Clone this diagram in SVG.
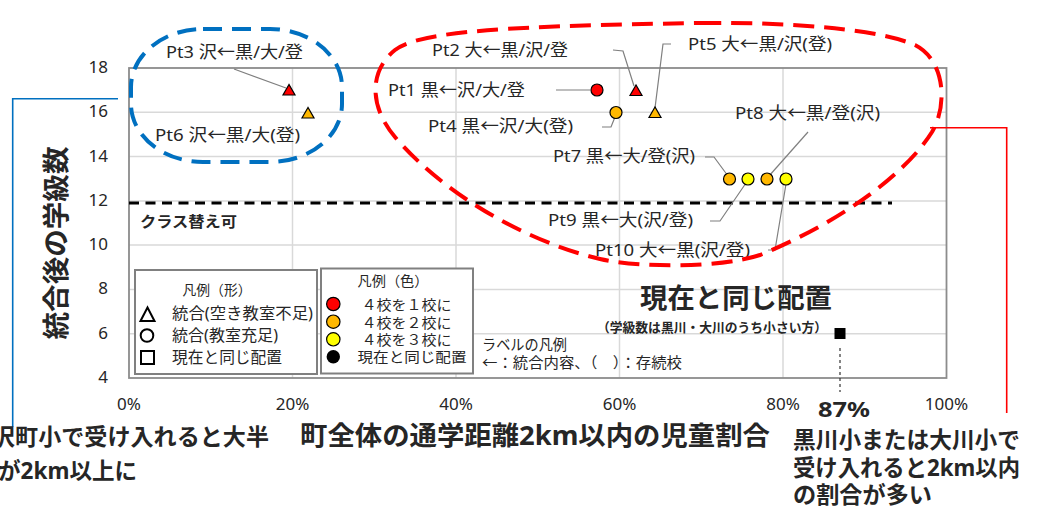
<svg xmlns="http://www.w3.org/2000/svg" width="1049" height="508" viewBox="0 0 1049 508">
<style>
text{font-family:"Noto Sans","Noto Sans CJK JP",sans-serif;fill:#262626}
.b{font-weight:bold}
.tk{font-size:17px}
.lb{font-size:17px}
.lg{font-size:14px}
.grid{stroke:#d9d9d9;stroke-width:1.5}
.ld{fill:none;stroke:#7f7f7f;stroke-width:1.2}
.pt{stroke:#000;stroke-width:1.2}
.red{fill:#ff0000}.org{fill:#ffb800}.yel{fill:#ffff00}
</style>
<rect width="1049" height="508" fill="#fff"/>
<g id="plot">
<g id="grid">
<line class="grid" x1="129" y1="112.3" x2="946.5" y2="112.3"/>
<line class="grid" x1="129" y1="156.6" x2="946.5" y2="156.6"/>
<line class="grid" x1="129" y1="200.9" x2="946.5" y2="200.9"/>
<line class="grid" x1="129" y1="245.1" x2="946.5" y2="245.1"/>
<line class="grid" x1="129" y1="289.4" x2="946.5" y2="289.4"/>
<line class="grid" x1="129" y1="333.7" x2="946.5" y2="333.7"/>
<line class="grid" x1="292.5" y1="68" x2="292.5" y2="378"/>
<line class="grid" x1="456" y1="68" x2="456" y2="378"/>
<line class="grid" x1="619.5" y1="68" x2="619.5" y2="378"/>
<line class="grid" x1="783" y1="68" x2="783" y2="378"/>
</g>
<rect x="129" y="68" width="817.5" height="310" fill="none" stroke="#8c8c8c" stroke-width="1.8"/>
<g id="yticks" class="tk" text-anchor="end">
<text x="108" y="73">18</text><text x="108" y="117">16</text><text x="108" y="162">14</text><text x="108" y="206">12</text>
<text x="108" y="250">10</text><text x="108" y="294">8</text><text x="108" y="339">6</text><text x="108" y="383">4</text>
</g>
<g id="xticks" class="tk" text-anchor="middle">
<text x="129" y="410">0%</text><text x="292.5" y="410">20%</text><text x="456" y="410">40%</text>
<text x="619.5" y="410">60%</text><text x="783" y="410">80%</text><text x="946.5" y="410">100%</text>
</g>
<text class="b" x="57" y="243" font-size="27" text-anchor="middle" textLength="193" lengthAdjust="spacingAndGlyphs" transform="rotate(-90 57 243)" dy="9" fill="#000">統合後の学級数</text>
<text class="b" x="300" y="445" font-size="26" textLength="470" lengthAdjust="spacingAndGlyphs" fill="#000">町全体の通学距離2km以内の児童割合</text>
</g>
<g id="threshold">
<line x1="129" y1="203" x2="892" y2="203" stroke="#000" stroke-width="3" stroke-dasharray="10 6.5"/>
<text class="b" x="140" y="227" font-size="15" textLength="97" lengthAdjust="spacingAndGlyphs" fill="#000">クラス替え可</text>
</g>
<g id="connectors">
<polyline class="ld" points="234,69 286,88"/>
<polyline class="ld" points="613,50 623,51 634,86"/>
<polyline class="ld" points="671,44 663,44 655,108"/>
<polyline class="ld" points="556,90 590,90"/>
<polyline class="ld" points="602,127 611,127 615,117"/>
<polyline class="ld" points="705,157 714,157 728,176"/>
<polyline class="ld" points="808,132 769,176"/>
<polyline class="ld" points="710,221 720,221 746,183"/>
<polyline class="ld" points="768,250 775,250 786,184"/>
<line x1="840" y1="348" x2="840" y2="392" stroke="#333" stroke-width="1.2" stroke-dasharray="3 3"/>
</g>
<g id="points">
<polygon id="pt3" class="pt red" points="289,84.5 283,95 295,95"/>
<polygon id="pt6" class="pt org" points="308,107.5 302,118 314,118"/>
<circle id="pt1" class="pt red" cx="597" cy="90" r="6"/>
<polygon id="pt2" class="pt red" points="636,85 630,95.5 642,95.5"/>
<circle id="pt4" class="pt org" cx="616" cy="112.5" r="6"/>
<polygon id="pt5" class="pt org" points="655,107 649,117.5 661,117.5"/>
<circle id="pt7" class="pt org" cx="729.5" cy="179" r="6"/>
<circle id="pt9" class="pt yel" cx="748" cy="179" r="6"/>
<circle id="pt8" class="pt org" cx="767" cy="179" r="6"/>
<circle id="pt10" class="pt yel" cx="786" cy="179" r="6"/>
<rect id="now" x="834.5" y="328" width="11" height="11" fill="#000"/>
</g>
<g id="labels" class="lb">
<text x="166" y="57.5" textLength="137" lengthAdjust="spacingAndGlyphs">Pt3 沢←黒/大/登</text>
<text x="155" y="141" textLength="145" lengthAdjust="spacingAndGlyphs">Pt6 沢←黒/大(登)</text>
<text x="432" y="56" textLength="136" lengthAdjust="spacingAndGlyphs">Pt2 大←黒/沢/登</text>
<text x="688" y="50" textLength="144" lengthAdjust="spacingAndGlyphs">Pt5 大←黒/沢(登)</text>
<text x="388" y="96" textLength="137" lengthAdjust="spacingAndGlyphs">Pt1 黒←沢/大/登</text>
<text x="428" y="132" textLength="145" lengthAdjust="spacingAndGlyphs">Pt4 黒←沢/大(登)</text>
<text x="553" y="162" textLength="142" lengthAdjust="spacingAndGlyphs">Pt7 黒←大/登(沢)</text>
<text x="735" y="119" textLength="145" lengthAdjust="spacingAndGlyphs">Pt8 大←黒/登(沢)</text>
<text x="548" y="226" textLength="145" lengthAdjust="spacingAndGlyphs">Pt9 黒←大(沢/登)</text>
<text x="595" y="256" textLength="155" lengthAdjust="spacingAndGlyphs">Pt10 大←黒(沢/登)</text>
</g>
<g id="legend-shape">
<rect x="135" y="270" width="182" height="104" fill="#fff" stroke="#808080" stroke-width="2"/>
<text x="217" y="295" font-size="14" text-anchor="middle" textLength="69" lengthAdjust="spacingAndGlyphs">凡例（形）</text>
<polygon points="147.5,307.5 140.5,321 154.5,321" fill="none" stroke="#000" stroke-width="2"/>
<circle cx="147" cy="335.5" r="6.3" fill="none" stroke="#000" stroke-width="2"/>
<rect x="141" y="351" width="13" height="13" fill="none" stroke="#000" stroke-width="2"/>
<text x="172" y="319" font-size="16" textLength="141" lengthAdjust="spacingAndGlyphs">統合(空き教室不足)</text>
<text x="172" y="341" font-size="16" textLength="106" lengthAdjust="spacingAndGlyphs">統合(教室充足)</text>
<text x="172" y="363" font-size="16" textLength="110" lengthAdjust="spacingAndGlyphs">現在と同じ配置</text>
</g>
<g id="legend-color">
<rect x="321" y="268.5" width="152" height="105" fill="#fff" stroke="#808080" stroke-width="2"/>
<text x="393" y="286" font-size="14" text-anchor="middle" textLength="71" lengthAdjust="spacingAndGlyphs">凡例（色）</text>
<circle class="pt red" cx="333.3" cy="304" r="6.7" stroke-width="1.5"/>
<circle class="pt org" cx="333.3" cy="321.7" r="6.7" stroke-width="1.5"/>
<circle class="pt yel" cx="333.3" cy="339.3" r="6.7" stroke-width="1.5"/>
<circle cx="333.3" cy="356.7" r="6.7" fill="#000"/>
<text class="lg" x="361.5" y="310" textLength="90" lengthAdjust="spacingAndGlyphs">４校を１校に</text>
<text class="lg" x="361.5" y="327.5" textLength="90" lengthAdjust="spacingAndGlyphs">４校を２校に</text>
<text class="lg" x="361.5" y="345" textLength="90" lengthAdjust="spacingAndGlyphs">４校を３校に</text>
<text class="lg" x="357.5" y="361.5" textLength="109" lengthAdjust="spacingAndGlyphs">現在と同じ配置</text>
</g>
<g id="label-legend">
<text x="482" y="350" font-size="15" textLength="85" lengthAdjust="spacingAndGlyphs">ラベルの凡例</text>
<text x="482" y="368" font-size="15" textLength="200" lengthAdjust="spacingAndGlyphs">←：統合内容、（　）：存続校</text>
</g>
<g id="current">
<text class="b" x="736" y="308" font-size="27" text-anchor="middle" textLength="192" lengthAdjust="spacingAndGlyphs" fill="#000">現在と同じ配置</text>
<text class="b" x="712" y="332" font-size="13" text-anchor="middle" textLength="230" lengthAdjust="spacingAndGlyphs" fill="#000">（学級数は黒川・大川のうち小さい方）</text>
<text class="b" x="844" y="417" font-size="22" text-anchor="middle" textLength="52" lengthAdjust="spacingAndGlyphs" fill="#000">87%</text>
</g>
<g id="blue-group">
<rect x="131" y="29" width="211" height="133" rx="72" ry="58" fill="none" stroke="#0070c0" stroke-width="4" stroke-dasharray="19 10"/>
<polyline points="118,98.7 12.7,98.7 12.7,427" fill="none" stroke="#0070c0" stroke-width="1.6"/>
<text class="b" x="-8" y="445" font-size="22.5" textLength="277" lengthAdjust="spacingAndGlyphs" fill="#0070c0">沢町小で受け入れると大半</text>
<text class="b" x="-2" y="479" font-size="22.5" textLength="139" lengthAdjust="spacingAndGlyphs" fill="#0070c0">が2km以上に</text>
</g>
<g id="red-group">
<path d="M700 23 C800 22 880 30 915 45 C945 60 948 105 932 132 C905 175 840 222 760 255 C720 268 640 268 600 259 C520 240 440 190 395 137 C368 105 370 70 395 50 C420 30 520 26 700 23 Z" fill="none" stroke="#ff0000" stroke-width="4" stroke-dasharray="21 10"/>
<polyline points="930,127.7 1006.7,127.7 1006.7,413" fill="none" stroke="#ff0000" stroke-width="1.6"/>
<text class="b" x="793" y="448" font-size="22.5" textLength="227" lengthAdjust="spacingAndGlyphs" fill="#ff0000">黒川小または大川小で</text>
<text class="b" x="793" y="476" font-size="22.5" textLength="227" lengthAdjust="spacingAndGlyphs" fill="#ff0000">受け入れると2km以内</text>
<text class="b" x="793" y="503" font-size="22.5" textLength="139" lengthAdjust="spacingAndGlyphs" fill="#ff0000">の割合が多い</text>
</g>
</svg>
